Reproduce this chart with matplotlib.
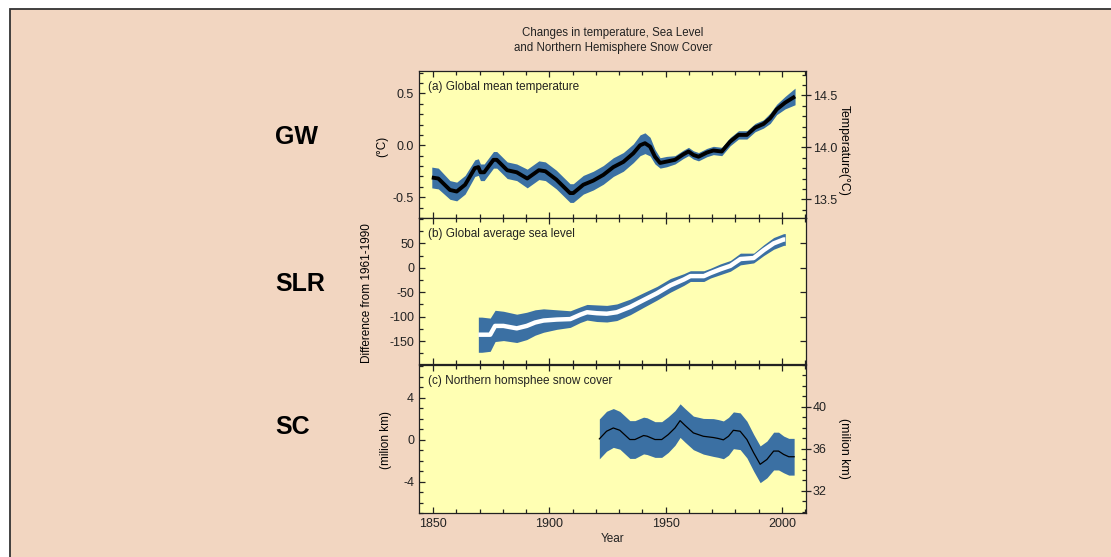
import numpy as np
import matplotlib
matplotlib.use("Agg")
import matplotlib.pyplot as plt
from matplotlib.patches import Rectangle
from matplotlib.ticker import MultipleLocator, FixedLocator, FormatStrFormatter

plt.rcParams['font.family'] = ['Liberation Sans', 'DejaVu Sans']
plt.rcParams['axes.unicode_minus'] = False

# (a) global mean temperature, anomaly in deg C
temp_year = [1849.5, 1852.3, 1857.3, 1860.2, 1863.8, 1868.0, 1869.5, 1870.4, 1872.0,
             1876.0, 1877.4, 1881.9, 1886.0, 1890.5, 1895.5, 1898.3, 1903.0, 1908.9,
             1910.3, 1914.6, 1918.9, 1923.2, 1927.5, 1931.8, 1936.1, 1939.0, 1941.1,
             1943.3, 1945.4, 1947.6, 1950.4, 1954.0, 1957.6, 1959.8, 1961.9, 1964.1,
             1967.7, 1970.5, 1974.1, 1977.7, 1981.3, 1984.9, 1988.4, 1992.0, 1994.9,
             1997.7, 2001.3, 2005.6]
temp_mean = [-0.31, -0.32, -0.43, -0.445, -0.38, -0.22, -0.21, -0.26, -0.26,
             -0.14, -0.14, -0.24, -0.26, -0.32, -0.24, -0.25, -0.33, -0.46,
             -0.46, -0.38, -0.34, -0.285, -0.21, -0.16, -0.077, 0.0, 0.02,
             -0.013, -0.11, -0.17, -0.157, -0.14, -0.087, -0.06, -0.093, -0.11,
             -0.07, -0.05, -0.06, 0.035, 0.10, 0.10, 0.17, 0.205, 0.26,
             0.345, 0.41, 0.47]
temp_err = [0.10, 0.10, 0.09, 0.09, 0.09, 0.08, 0.08, 0.08, 0.08,
            0.08, 0.08, 0.08, 0.08, 0.09, 0.09, 0.09, 0.09, 0.09,
            0.09, 0.09, 0.09, 0.09, 0.09, 0.09, 0.09, 0.10, 0.10,
            0.09, 0.07, 0.05, 0.05, 0.04, 0.04, 0.04, 0.04, 0.04,
            0.04, 0.04, 0.04, 0.04, 0.04, 0.04, 0.04, 0.04, 0.05,
            0.05, 0.06, 0.08]

# (b) global average sea level, mm
sea_year = [1869.5, 1871.0, 1874.6, 1876.7, 1880.3, 1886.0, 1890.3, 1893.9, 1897.5,
            1903.2, 1909.0, 1913.3, 1916.2, 1920.4, 1924.7, 1929.0, 1934.8, 1940.5,
            1946.3, 1952.0, 1957.8, 1960.6, 1966.4, 1969.2, 1973.5, 1977.8, 1982.1,
            1987.8, 1992.1, 1996.4, 2000.7, 2001.4]
sea_mean = [-137, -137, -137, -119, -119, -124, -119, -112, -108,
            -106, -105, -96, -91, -93, -94, -91, -80, -66,
            -52, -36, -24, -17, -17, -11, -3, 4, 18,
            20, 36, 50, 58, 58]
sea_err = [36, 36, 34, 32, 30, 29, 28, 26, 24,
           20, 17, 16, 16, 17, 17, 17, 16, 15,
           14, 14, 12, 11, 11, 10, 11, 11, 12,
           10, 11, 12, 12, 12]

# (c) northern hemisphere snow cover, million km2
snow_year = [1921.5, 1924.6, 1927.5, 1930.3, 1934.6, 1936.8, 1940.5, 1942.0, 1945.4,
             1948.3, 1951.1, 1954.0, 1956.2, 1958.3, 1961.9, 1966.2, 1970.5, 1972.6,
             1974.8, 1977.0, 1979.1, 1982.0, 1984.9, 1987.8, 1990.6, 1993.5, 1996.4,
             1998.5, 2000.7, 2002.9, 2005.2]
snow_mean = [0.06, 0.79, 1.1, 0.88, 0.0, 0.0, 0.38, 0.32, 0.0,
             0.0, 0.47, 1.1, 1.8, 1.35, 0.63, 0.31, 0.19, 0.1,
             -0.03, 0.31, 0.88, 0.79, 0.0, -1.26, -2.36, -1.9, -1.1,
             -1.1, -1.42, -1.64, -1.64]
snow_err = [1.9, 1.9, 1.85, 1.8, 1.8, 1.8, 1.75, 1.75, 1.7,
            1.7, 1.7, 1.65, 1.6, 1.6, 1.6, 1.7, 1.8, 1.8,
            1.8, 1.8, 1.75, 1.75, 1.75, 1.75, 1.75, 1.75, 1.8,
            1.8, 1.75, 1.75, 1.75]

peach = '#F2D6C1'
pale = '#FFFFB3'
band = '#3B70A3'
ink = '#222222'

fig = plt.figure(figsize=(11.11, 5.57), dpi=100, facecolor='white')
fig.patches.append(Rectangle((10/1111, -0.1), 1.2, (557 - 9)/557 + 0.1,
                             transform=fig.transFigure, facecolor=peach,
                             edgecolor='#333333', lw=1.3, zorder=-10))

L, W = 419/1111, 387/1111
ax_a = fig.add_axes([L, (557 - 218)/557, W, 147/557])
ax_b = fig.add_axes([L, (557 - 364)/557, W, 146/557])
ax_c = fig.add_axes([L, (557 - 513)/557, W, 148/557])

ta = np.array(temp_mean); ea = np.array(temp_err)
ax_a.fill_between(temp_year, ta - ea, ta + ea, color=band, lw=0)
ax_a.plot(temp_year, ta, color='black', lw=2.8, solid_capstyle='butt')
ax_a.set_ylim(-0.70, 0.715)
ax_a.yaxis.set_major_locator(FixedLocator([-0.5, 0.0, 0.5]))
ax_a.yaxis.set_minor_locator(MultipleLocator(0.1))
ax_a.yaxis.set_major_formatter(FormatStrFormatter('%.1f'))

sb = np.array(sea_mean); eb = np.array(sea_err)
ax_b.fill_between(sea_year, sb - eb, sb + eb, color=band, lw=0)
ax_b.plot(sea_year, sb, color='white', lw=3.2, solid_capstyle='butt')
ax_b.set_ylim(-197, 102)
ax_b.yaxis.set_major_locator(FixedLocator([-150, -100, -50, 0, 50]))
ax_b.yaxis.set_minor_locator(MultipleLocator(25))

sc = np.array(snow_mean); ec = np.array(snow_err)
ax_c.fill_between(snow_year, sc - ec, sc + ec, color=band, lw=0)
ax_c.plot(snow_year, sc, color='black', lw=0.9)
ax_c.set_ylim(-7.0, 7.1)
ax_c.yaxis.set_major_locator(FixedLocator([-4, 0, 4]))
ax_c.yaxis.set_minor_locator(MultipleLocator(1))

for ax in (ax_a, ax_b, ax_c):
    ax.set_facecolor(pale)
    ax.set_xlim(1844, 2010.3)
    ax.xaxis.set_major_locator(MultipleLocator(50))
    ax.xaxis.set_minor_locator(MultipleLocator(10))
    ax.tick_params(axis='both', which='both', direction='in', top=True,
                   colors=ink, labelsize=9, width=0.9)
    ax.tick_params(which='major', length=4.5)
    ax.tick_params(which='minor', length=3)
    ax.tick_params(axis='y', right=(ax is ax_b))
    for s in ax.spines.values():
        s.set_color(ink)
        s.set_linewidth(0.9)
ax_a.tick_params(axis='x', labelbottom=False)
ax_b.tick_params(axis='x', labelbottom=False)

# right hand absolute scales
ra = ax_a.twinx()
ra.set_ylim(np.array(ax_a.get_ylim()) + 14.02)
ra.yaxis.set_major_locator(FixedLocator([13.5, 14.0, 14.5]))
ra.yaxis.set_minor_locator(MultipleLocator(0.1))
ra.yaxis.set_major_formatter(FormatStrFormatter('%.1f'))
rc = ax_c.twinx()
rc.set_ylim(np.array(ax_c.get_ylim()) + 36.9)
rc.yaxis.set_major_locator(FixedLocator([32, 36, 40]))
rc.yaxis.set_minor_locator(MultipleLocator(1))
for r in (ra, rc):
    r.tick_params(which='major', direction='inout', length=7, labelsize=9,
                  colors=ink, width=0.9, pad=1.5)
    r.tick_params(which='minor', direction='in', length=3, colors=ink, width=0.9)
    for s in r.spines.values():
        s.set_visible(False)

# panel captions
ax_a.text(0.022, 0.93, '(a) Global mean temperature', transform=ax_a.transAxes,
          fontsize=8.5, va='top', color=ink)
ax_b.text(0.022, 0.93, '(b) Global average sea level', transform=ax_b.transAxes,
          fontsize=8.5, va='top', color=ink)
ax_c.text(0.022, 0.93, '(c) Northern homsphee snow cover', transform=ax_c.transAxes,
          fontsize=8.5, va='top', color=ink)

ax_c.set_xlabel('Year', fontsize=8.5, labelpad=2, color=ink)

fig.text(382/1111, 1 - 146/557, '(°C)', rotation=90, ha='center', va='center', fontsize=8.5)
fig.text(367/1111, 1 - 293/557, 'Difference from 1961-1990', rotation=90,
         ha='center', va='center', fontsize=8.5)
fig.text(386/1111, 1 - 440/557, '(milion km)', rotation=90, ha='center', va='center', fontsize=8.5)
fig.text(844/1111, 1 - 150/557, 'Temperature(°C)', rotation=-90, ha='center', va='center', fontsize=8.8)
fig.text(844/1111, 1 - 448/557, '(milion km)', rotation=-90, ha='center', va='center', fontsize=8.8)

fig.text(613/1111, 1 - 33/557, 'Changes in temperature, Sea Level', ha='center',
         va='center', fontsize=8.3, color=ink)
fig.text(613/1111, 1 - 48/557, 'and Northern Hemisphere Snow Cover', ha='center',
         va='center', fontsize=8.3, color=ink)

for lab, yy in (('GW', 137.5), ('SLR', 284), ('SC', 427.5)):
    fig.text(275/1111, 1 - yy/557, lab, ha='left', va='center', fontsize=18,
             fontweight='bold', color='black')

fig.savefig('out.png', dpi=100, facecolor=fig.get_facecolor())
